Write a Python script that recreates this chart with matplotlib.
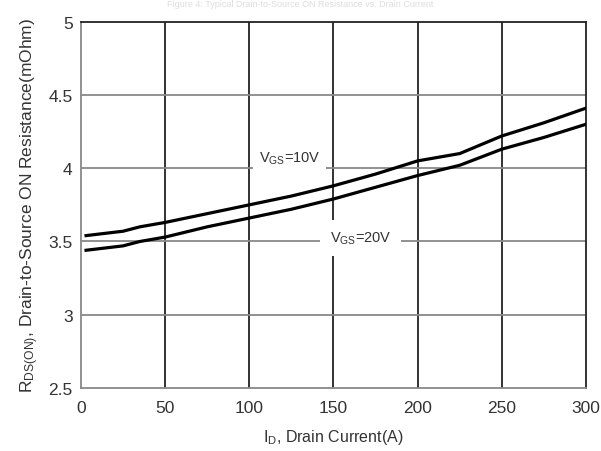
import matplotlib
matplotlib.use("Agg")
import matplotlib.pyplot as plt

plt.rcParams['font.family'] = ['Liberation Sans', 'DejaVu Sans']
plt.rcParams['mathtext.fontset'] = 'custom'
plt.rcParams['mathtext.rm'] = 'Liberation Sans'
plt.rcParams['mathtext.it'] = 'Liberation Sans'

current = [3, 25, 35, 50, 75, 100, 125, 150, 175, 200, 225, 250, 275, 300]
r_vgs10 = [3.54, 3.57, 3.60, 3.63, 3.69, 3.75, 3.81, 3.88, 3.96, 4.05, 4.10, 4.22, 4.31, 4.41]
r_vgs20 = [3.44, 3.47, 3.50, 3.53, 3.60, 3.66, 3.72, 3.79, 3.87, 3.95, 4.02, 4.13, 4.21, 4.30]
xticks = [0, 50, 100, 150, 200, 250, 300]
yticks = [2.5, 3, 3.5, 4, 4.5, 5]
ytick_labels = ['2.5', '3', '3.5', '4', '4.5', '5']

fig = plt.figure(figsize=(6.01, 4.52), dpi=100)
ax = fig.add_axes([0.1348, 0.1394, 0.8402, 0.8104])

for x in xticks[1:-1]:
    ax.axvline(x, color='#222222', lw=1.3, zorder=1)
for y in yticks[1:-1]:
    ax.axhline(y, color='#888888', lw=1.3, zorder=1)

ax.plot(current, r_vgs10, color='black', lw=2.3, zorder=3)
ax.plot(current, r_vgs20, color='black', lw=2.3, zorder=3)

ax.text(124, 4.07, 'V$_{\\mathrm{GS}}$=10V', fontsize=10.5, color='#333333', ha='center', va='center', zorder=2,
        bbox=dict(facecolor='white', edgecolor='none', pad=4))
ax.text(166, 3.525, 'V$_{\\mathrm{GS}}$=20V', fontsize=10.5, color='#333333', ha='center', va='center', zorder=2,
        bbox=dict(facecolor='white', edgecolor='none', pad=7))

ax.set_xlim(0, 300)
ax.set_ylim(2.5, 5)
ax.set_xticks(xticks)
ax.set_yticks(yticks)
ax.set_yticklabels(ytick_labels)
ax.tick_params(length=0, labelsize=12.5, colors='#333333')
ax.tick_params(axis='x', pad=9)
ax.tick_params(axis='y', pad=6)
ax.spines['left'].set_color('#888888')
ax.spines['bottom'].set_color('#888888')
ax.spines['right'].set_color('#222222')
ax.spines['top'].set_color('#222222')
for s in ax.spines.values():
    s.set_linewidth(1.3)

ax.set_xlabel('I$_{\\mathrm{D}}$, Drain Current(A)', fontsize=11.5, color='#333333', labelpad=8)
ax.set_ylabel('R$_{\\mathrm{DS(ON)}}$, Drain-to-Source ON Resistance(mOhm)', fontsize=12.5, color='#333333', labelpad=5)

fig.text(0.5, 0.999, 'Figure 4: Typical Drain-to-Source ON Resistance vs. Drain Current',
         ha='center', va='top', fontsize=6.5, color='#dddddd')

fig.savefig('out.png', dpi=100)
